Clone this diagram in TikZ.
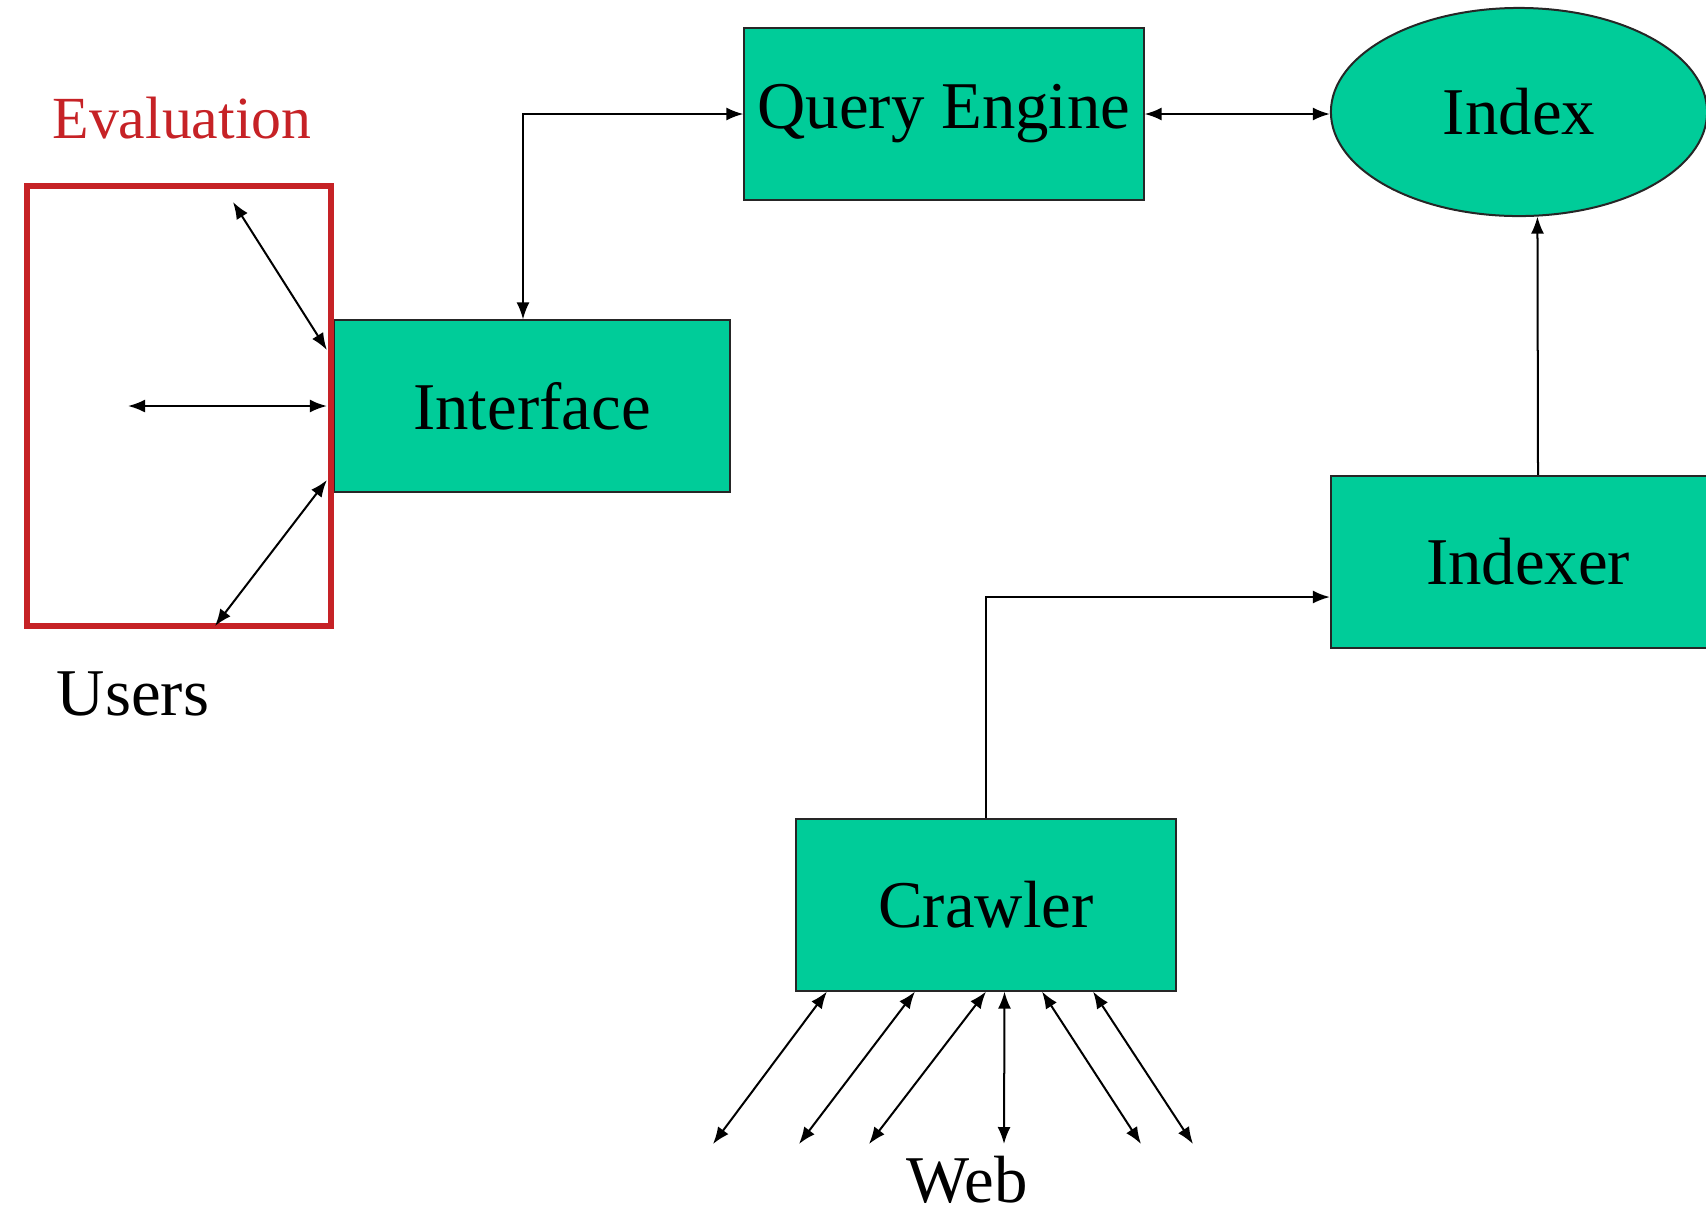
\documentclass[tikz,border=0pt]{standalone}
\usepackage{fontspec}
\setmainfont{Liberation Serif}
\usepackage{tikz}
\usepackage{xcolor}
\usetikzlibrary{positioning}
\usetikzlibrary{shapes.geometric,arrows.meta}

\definecolor{boxgreen}{RGB}{0,204,153}
\definecolor{evalred}{RGB}{198,34,38}

\tikzset{
  block/.style={draw=black!85, line width=0.02cm, fill=boxgreen, inner sep=0pt,
    font=\fontsize{19pt}{22pt}\selectfont},
  link/.style={line width=0.02cm, >={Latex[length=0.17cm,width=0.13cm]}},
  caption/.style={anchor=base, inner sep=0pt, font=\fontsize{19pt}{22pt}\selectfont}
}

\begin{document}
\begin{tikzpicture}[x=0.01cm, y=-0.01cm]
  \useasboundingbox (0,0) rectangle (1706,1211);
  \node(interface) [block, minimum width=3.96cm, minimum height=1.71cm] at (532,406) {Interface};
  \node(query) [block, minimum width=3.99cm, minimum height=1.72cm] at (944,114) {Query Engine};
  \node(index) [block, ellipse, minimum width=3.76cm, minimum height=2.08cm] at (1519,112) {Index};
  \node(indexer) [block, minimum width=3.94cm, minimum height=1.72cm] at (1528,562) {Indexer};
  \node(crawler) [block, minimum width=3.79cm, minimum height=1.71cm] at (986,905) {Crawler};
  \node(evalbox) [draw=evalred, line width=0.055cm, minimum width=3.04cm, minimum height=4.40cm] at (179,406) {};
  \node(evaluation) [caption, text=evalred, font=\fontsize{17pt}{20pt}\selectfont] at (182,138) {Evaluation};
  \node(users) [caption] at (133,715) {Users};
  \node(web) [caption] at (967,1202) {Web};

  % users talking to the interface
  \coordinate (u1) at (233,202);
  \coordinate (u2) at (128,406);
  \coordinate (u3) at (215,626);
  \draw[link,<->] (u1) -- ([xshift=-0.06cm, yshift=0.56cm]interface.west);
  \draw[link,<->] (u2) -- ([xshift=-0.06cm]interface.west);
  \draw[link,<->] (u3) -- ([xshift=-0.06cm, yshift=-0.74cm]interface.west);

  \draw[link,<->] ([xshift=-0.09cm]interface.north) |- (query.west);
  \draw[link,<->] (query.east) -- (query.east -| index.west);
  \draw[link,->] ([xshift=0.1cm]indexer.north) -- (index.280);
  \draw[link,->] (crawler.north) |- ([yshift=-0.35cm]indexer.west);

  % crawler fetching from the web
  \foreach \i/\x in {1/713,2/799,3/869,4/1004,5/1141,6/1193}
    \coordinate (w\i) at (\x,1144);
  \foreach \i/\dx in {1/-1.59,2/-0.71,3/0,4/0.185,5/0.56,6/1.07}
    \draw[link,<->] ([xshift=\dx cm]crawler.south) -- (w\i);
\end{tikzpicture}
\end{document}
